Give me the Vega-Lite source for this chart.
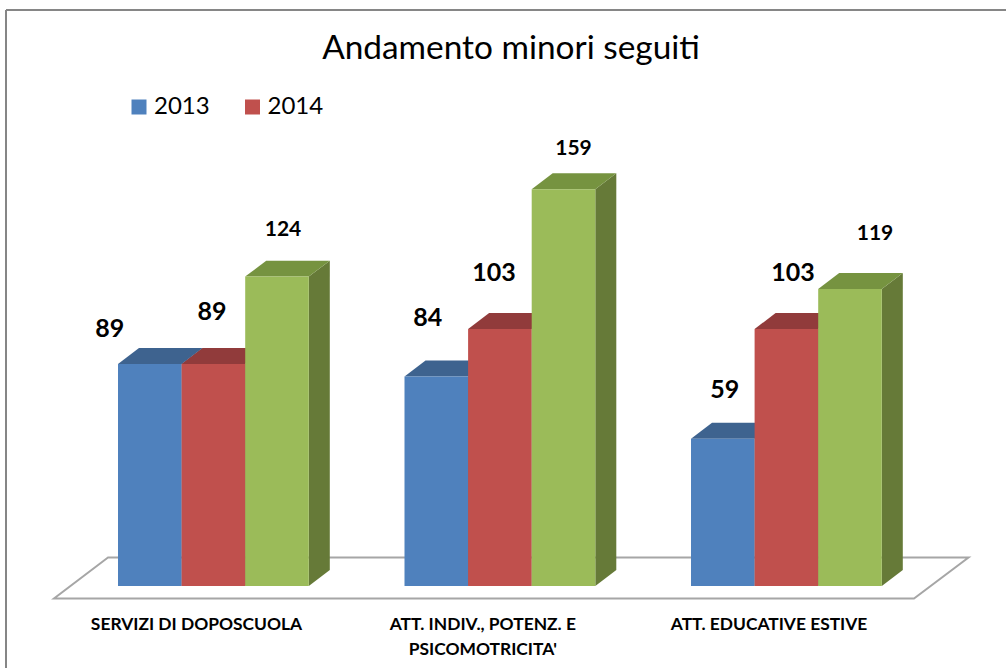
{
"$schema":"https://vega.github.io/schema/vega-lite/v6.json",
"width":1006,"height":668,"padding":0,"autosize":{"type":"none"},
"background":"white",
"title":{"text":"Andamento minori seguiti","font":"Lato","fontSize":33.4,"fontWeight":"normal","color":"#000000","anchor":"middle","frame":"group","orient":"top","offset":0,"baseline":"alphabetic","dy":92,"dx":8},
"config":{"view":{"stroke":null}},
"data":{"values":[
{"category":"SERVIZI DI DOPOSCUOLA","series":"2013","value":89},
{"category":"SERVIZI DI DOPOSCUOLA","series":"2014","value":89},
{"category":"SERVIZI DI DOPOSCUOLA","series":"Serie 3","value":124},
{"category":"ATT. INDIV., POTENZ. E PSICOMOTRICITA'","series":"2013","value":84},
{"category":"ATT. INDIV., POTENZ. E PSICOMOTRICITA'","series":"2014","value":103},
{"category":"ATT. INDIV., POTENZ. E PSICOMOTRICITA'","series":"Serie 3","value":159},
{"category":"ATT. EDUCATIVE ESTIVE","series":"2013","value":59},
{"category":"ATT. EDUCATIVE ESTIVE","series":"2014","value":103},
{"category":"ATT. EDUCATIVE ESTIVE","series":"Serie 3","value":119}
]},
"transform":[
{"calculate":"test(/^SERVIZI/,datum.category)?0:test(/^ATT. INDIV/,datum.category)?1:2","as":"g"},
{"calculate":"indexof(['2013','2014','Serie 3'],datum.series)","as":"s"},
{"calculate":"118+datum.g*286.5+datum.s*63.6","as":"x0"}
],
"encoding":{
"x":{"field":"px","type":"quantitative","scale":{"domain":[0,1006],"range":[0,1006],"nice":false,"zero":false},"axis":null},
"y":{"field":"py","type":"quantitative","scale":{"domain":[-32.87,234.87],"range":[668,0],"nice":false,"zero":false},"axis":null}
},
"layer":[
{"data":{"values":[{"edge":"back"},{"edge":"front"}]},
 "transform":[
  {"calculate":"datum.edge=='back'?108:54","as":"px"},
  {"calculate":"datum.edge=='back'?968.5:914","as":"px2"},
  {"calculate":"datum.edge=='back'?11.4:-5","as":"py"}
 ],
 "mark":{"type":"area","orient":"horizontal","fill":"#ffffff","stroke":"#a6a6a6","strokeWidth":2},
 "encoding":{"x2":{"field":"px2"}}},
{"data":{"values":[{"edge":"top"}]},
 "transform":[{"calculate":"6","as":"px"},{"calculate":"1006","as":"px2"},{"calculate":"230.9","as":"py"}],
 "mark":{"type":"rule","color":"#868686","strokeWidth":2},
 "encoding":{"x2":{"field":"px2"}}},
{"data":{"values":[{"edge":"left"}]},
 "transform":[{"calculate":"6","as":"px"},{"calculate":"230.9","as":"py"},{"calculate":"-32.87","as":"py2"}],
 "mark":{"type":"rule","color":"#868686","strokeWidth":2},
 "encoding":{"y2":{"field":"py2"}}},
{"transform":[
  {"calculate":"[0,1]","as":"p"},{"flatten":["p"]},
  {"calculate":"datum.x0+63.6+21*datum.p","as":"px"},
  {"calculate":"datum.value+6.4*datum.p","as":"py"},
  {"calculate":"6.4*datum.p","as":"py2"}
 ],
 "mark":{"type":"area"},
 "encoding":{"y2":{"field":"py2"},"detail":{"field":"g"},
  "color":{"field":"series","type":"nominal","legend":null,"scale":{"domain":["2013","2014","Serie 3"],"range":["#3a5f8c","#8e3b38","#667a38"]}}}},
{"transform":[
  {"calculate":"[0,1]","as":"p"},{"flatten":["p"]},
  {"calculate":"datum.x0+21*datum.p","as":"px"},
  {"calculate":"datum.x0+63.6+21*datum.p","as":"px2"},
  {"calculate":"datum.value+6.4*datum.p","as":"py"}
 ],
 "mark":{"type":"area","orient":"horizontal"},
 "encoding":{"x2":{"field":"px2"},"detail":{"field":"g"},
  "color":{"field":"series","type":"nominal","legend":null,"scale":{"domain":["2013","2014","Serie 3"],"range":["#3e638f","#913b3b","#769340"]}}}},
{"transform":[
  {"calculate":"datum.x0","as":"px"},
  {"calculate":"datum.x0+63.6","as":"px2"},
  {"calculate":"datum.value","as":"py"},
  {"calculate":"0","as":"py2"}
 ],
 "mark":{"type":"rect"},
 "encoding":{"x2":{"field":"px2"},"y2":{"field":"py2"},
  "color":{"field":"series","type":"nominal","scale":{"domain":["2013","2014","Serie 3"],"range":["#4f81bd","#c0504d","#9bbb59"]},
   "legend":{"values":["2013","2014"],"title":null,"orient":"none","legendX":127,"legendY":95,"direction":"horizontal","columns":2,"columnPadding":30.5,"padding":0,"symbolType":"square","symbolSize":225,"symbolStrokeWidth":0,"symbolOpacity":1,"labelFont":"Lato","labelFontSize":24,"labelColor":"#000000","labelOffset":3,"rowPadding":0}}}},
{"transform":[
  {"calculate":"datum.x0+31.8+[[-40,-1.5,6],[-8.5,-6,10],[2,6.5,25]][datum.g][datum.s]","as":"px"},
  {"calculate":"datum.value+[[27,44,41],[50,48,34],[41,48,49]][datum.g][datum.s]/2.495","as":"py"}
 ],
 "mark":{"type":"text","font":"Lato","fontWeight":"bold","color":"#000000","align":"center","baseline":"alphabetic"},
 "encoding":{"text":{"field":"value","type":"quantitative"},
  "size":{"field":"series","type":"nominal","legend":null,"scale":{"type":"ordinal","domain":["2013","2014","Serie 3"],"range":[25,25,21]}}}},
{"transform":[
  {"filter":"datum.s==0"},
  {"calculate":"196.5+datum.g*286.3","as":"px"},
  {"calculate":"-17.6","as":"py"},
  {"calculate":"replace(datum.category,'E PSICO','E\\nPSICO')","as":"label"}
 ],
 "mark":{"type":"text","font":"Lato","fontWeight":"bold","fontSize":17.4,"color":"#000000","align":"center","baseline":"alphabetic","lineBreak":"\n","lineHeight":25},
 "encoding":{"text":{"field":"label","type":"nominal"}}}
],
"resolve":{"scale":{"color":"independent"}}
}
